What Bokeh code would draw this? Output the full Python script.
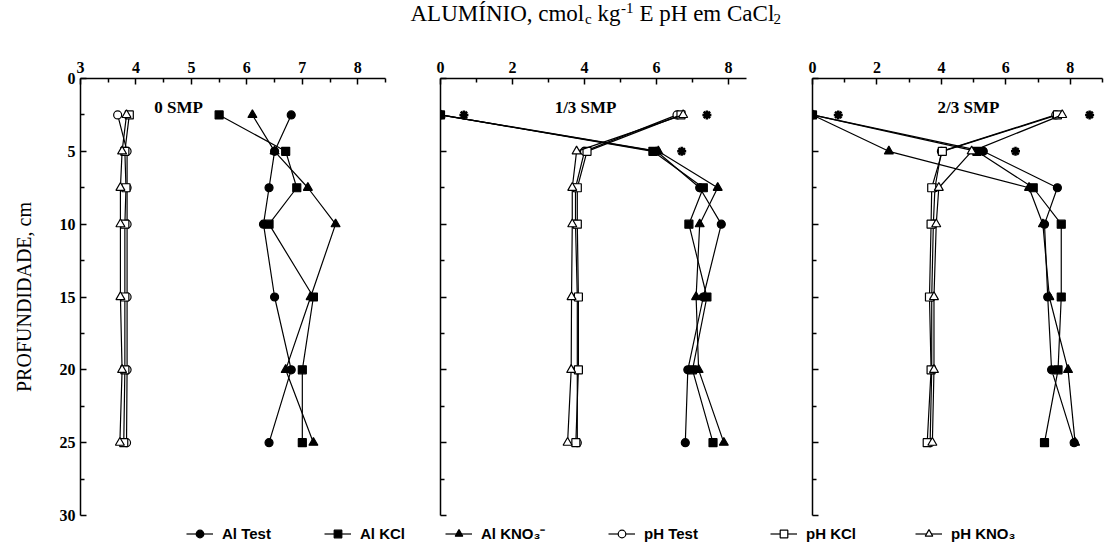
from bokeh.plotting import figure
from bokeh.layouts import column, row
from bokeh.models import Range1d, FixedTicker, Label, Legend, LegendItem
from bokeh.embed import file_html
from bokeh.resources import INLINE

# ---------------- data ----------------
depth = [2.5, 5, 7.5, 10, 15, 20, 25]

series_names = ["Al Test", "Al KCl", "Al KNO₃⁻", "pH Test", "pH KCl", "pH KNO₃"]
series_markers = ["circle", "square", "triangle", "circle", "square", "triangle"]

# 0 SMP
al_test_0 = [6.8, 6.5, 6.4, 6.3, 6.5, 6.8, 6.4]
al_kcl_0 = [5.5, 6.7, 6.9, 6.4, 7.2, 7.0, 7.0]
al_kno3_0 = [6.1, 6.5, 7.1, 7.6, 7.15, 6.7, 7.2]
ph_test_0 = [3.67, 3.84, 3.84, 3.84, 3.84, 3.84, 3.83]
ph_kcl_0 = [3.88, 3.8, 3.82, 3.8, 3.8, 3.8, 3.78]
ph_kno3_0 = [3.83, 3.75, 3.72, 3.72, 3.72, 3.75, 3.71]

# 1/3 SMP
al_test_13 = [0, 6.0, 7.2, 7.8, 7.3, 6.87, 6.8]
al_kcl_13 = [0, 5.9, 7.3, 6.9, 7.4, 7.0, 7.57]
al_kno3_13 = [0, 6.05, 7.7, 7.2, 7.1, 7.17, 7.87]
ph_test_13 = [6.57, 4.0, 3.75, 3.75, 3.8, 3.8, 3.8]
ph_kcl_13 = [6.68, 4.07, 3.8, 3.8, 3.83, 3.83, 3.76]
ph_kno3_13 = [6.74, 3.78, 3.66, 3.66, 3.64, 3.63, 3.53]
ast_13_x = [0.65, 7.4, 6.7]
ast_13_y = [2.5, 2.5, 5]

# 2/3 SMP
al_test_23 = [0, 5.3, 7.6, 7.2, 7.3, 7.42, 8.12]
al_kcl_23 = [0, 5.1, 6.85, 7.72, 7.72, 7.62, 7.2]
al_kno3_23 = [0, 2.37, 6.72, 7.15, 7.35, 7.93, 8.15]
ph_test_23 = [7.55, 4.0, 3.8, 3.75, 3.7, 3.7, 3.65]
ph_kcl_23 = [7.6, 4.03, 3.7, 3.68, 3.63, 3.68, 3.56]
ph_kno3_23 = [7.75, 4.94, 3.92, 3.84, 3.77, 3.77, 3.72]
ast_23_x = [0.8, 8.6, 6.3]
ast_23_y = [2.5, 2.5, 5]

panel_labels = ["0 SMP", "1/3 SMP", "2/3 SMP"]
y_ticks = [0, 5, 10, 15, 20, 25, 30]
y_minor = [2.5, 7.5, 12.5, 17.5, 22.5, 27.5]

SERIF = "Liberation Serif"
SANS = "Liberation Sans"


def style_axis(ax):
    ax.axis_line_width = 1.5
    ax.axis_line_color = "black"
    ax.major_tick_line_width = 1.5
    ax.minor_tick_line_width = 1.5
    ax.major_tick_line_color = "black"
    ax.minor_tick_line_color = "black"
    ax.major_tick_in = 6
    ax.major_tick_out = 0
    ax.minor_tick_in = 4
    ax.minor_tick_out = 0
    ax.major_label_text_font = SERIF
    ax.major_label_text_font_style = "bold"
    ax.major_label_text_font_size = "16px"
    ax.major_label_text_color = "black"


def make_panel(xr, xt, xm, series, label, label_x, ast_x, ast_y,
               left_b, frame_w, right_b, first):
    p = figure(frame_width=frame_w, frame_height=437, title=None,
               min_border_left=left_b, min_border_right=right_b,
               min_border_top=50, min_border_bottom=9,
               x_range=Range1d(*xr), y_range=Range1d(30, 0),
               x_axis_location="above", toolbar_location=None,
               output_backend="svg")
    p.outline_line_color = None
    p.grid.visible = False

    xa = p.xaxis[0]
    xa.ticker = FixedTicker(ticks=xt, minor_ticks=xm)
    style_axis(xa)
    xa.major_label_standoff = 6

    ya = p.yaxis[0]
    ya.ticker = FixedTicker(ticks=y_ticks, minor_ticks=y_minor)
    style_axis(ya)
    ya.major_label_standoff = 5
    if first:
        ya.axis_label = "PROFUNDIDADE, cm"
        ya.axis_label_text_font = SERIF
        ya.axis_label_text_font_style = "normal"
        ya.axis_label_text_font_size = "20px"
        ya.axis_label_text_color = "black"
        ya.axis_label_standoff = 22
    else:
        ya.major_label_overrides = {t: "" for t in y_ticks}

    for vals, mk, i in zip(series, series_markers, range(6)):
        fill = "black" if i < 3 else "white"
        size = 9 if mk == "triangle" else 8
        p.line(vals, depth, line_color="black", line_width=1.2)
        p.scatter(vals, depth, marker=mk, size=size, fill_color=fill,
                  line_color="black", line_width=1.2)

    if ast_x is not None:
        p.scatter(ast_x, ast_y, marker="asterisk", size=9, line_color="black",
                  line_width=2.5)

    p.add_layout(Label(x=label_x, y=2.0, text=label, text_align="center",
                       text_baseline="middle", text_font=SERIF,
                       text_font_style="bold", text_font_size="17px",
                       text_color="black"))
    return p


p1 = make_panel((3, 8.5), [3, 4, 5, 6, 7, 8], [3.5, 4.5, 5.5, 6.5, 7.5, 8.5],
                [al_test_0, al_kcl_0, al_kno3_0, ph_test_0, ph_kcl_0, ph_kno3_0],
                panel_labels[0], 4.77, None, None, 80, 305, 15, True)
p2 = make_panel((0, 8.5), [0, 2, 4, 6, 8], [1, 3, 5, 7],
                [al_test_13, al_kcl_13, al_kno3_13, ph_test_13, ph_kcl_13, ph_kno3_13],
                panel_labels[1], 4.03, ast_13_x, ast_13_y, 40, 306, 20, False)
p3 = make_panel((0, 9), [0, 2, 4, 6, 8], [1, 3, 5, 7, 9],
                [al_test_23, al_kcl_23, al_kno3_23, ph_test_23, ph_kcl_23, ph_kno3_23],
                panel_labels[2], 4.84, ast_23_x, ast_23_y, 46, 290, 7, False)

# ---------------- title strip ----------------
t = figure(width=1109, height=28, title=None,
           x_range=Range1d(0, 1109), y_range=Range1d(0, 28),
           x_axis_type=None, y_axis_type=None, toolbar_location=None,
           output_backend="svg", min_border=0)
t.outline_line_color = None
t.grid.visible = False
title_parts = [("ALUMÍNIO, cmol", 410, 15, "23px"), ("c", 584.5, 10, "15px"),
               ("kg", 597, 15, "23px"), ("-1", 620.5, 21, "15px"),
               ("E pH em CaCl", 639, 15, "23px"), ("2", 773, 10, "15px")]
for txt, x, y, fs in title_parts:
    t.add_layout(Label(x=x, y=y, text=txt, text_font=SERIF, text_font_size=fs,
                       text_baseline="alphabetic", text_align="left",
                       text_color="black"))

# ---------------- legend strip ----------------
lg = figure(width=1109, height=19, title=None,
            x_range=Range1d(0, 1), y_range=Range1d(0, 1),
            x_axis_type=None, y_axis_type=None, toolbar_location=None,
            output_backend="svg", min_border=0)
lg.outline_line_color = None
lg.grid.visible = False
legend_x = [186, 324, 445, 608, 770, 915]
legend_data = [al_test_0, al_kcl_0, al_kno3_0, ph_test_0, ph_kcl_0, ph_kno3_0]
for i, (name, mk) in enumerate(zip(series_names, series_markers)):
    fill = "black" if i < 3 else "white"
    r1 = lg.line(legend_data[i], depth, line_color="black", line_width=1.2)
    r2 = lg.scatter(legend_data[i], depth, marker=mk,
                    size=9 if mk == "triangle" else 8,
                    fill_color=fill, line_color="black", line_width=1.2)
    leg = Legend(items=[LegendItem(label=name, renderers=[r1, r2])],
                 location=(legend_x[i], 0), orientation="horizontal",
                 glyph_width=27, glyph_height=19, label_height=19,
                 label_standoff=9,
                 padding=0, margin=0, spacing=0,
                 border_line_color=None, background_fill_alpha=0,
                 label_text_font=SANS, label_text_font_style="bold",
                 label_text_font_size="15px", label_text_color="black")
    lg.add_layout(leg, "center")

layout = column(t, row(p1, p2, p3), lg)
open("out.html", "w").write(file_html(layout, INLINE))
